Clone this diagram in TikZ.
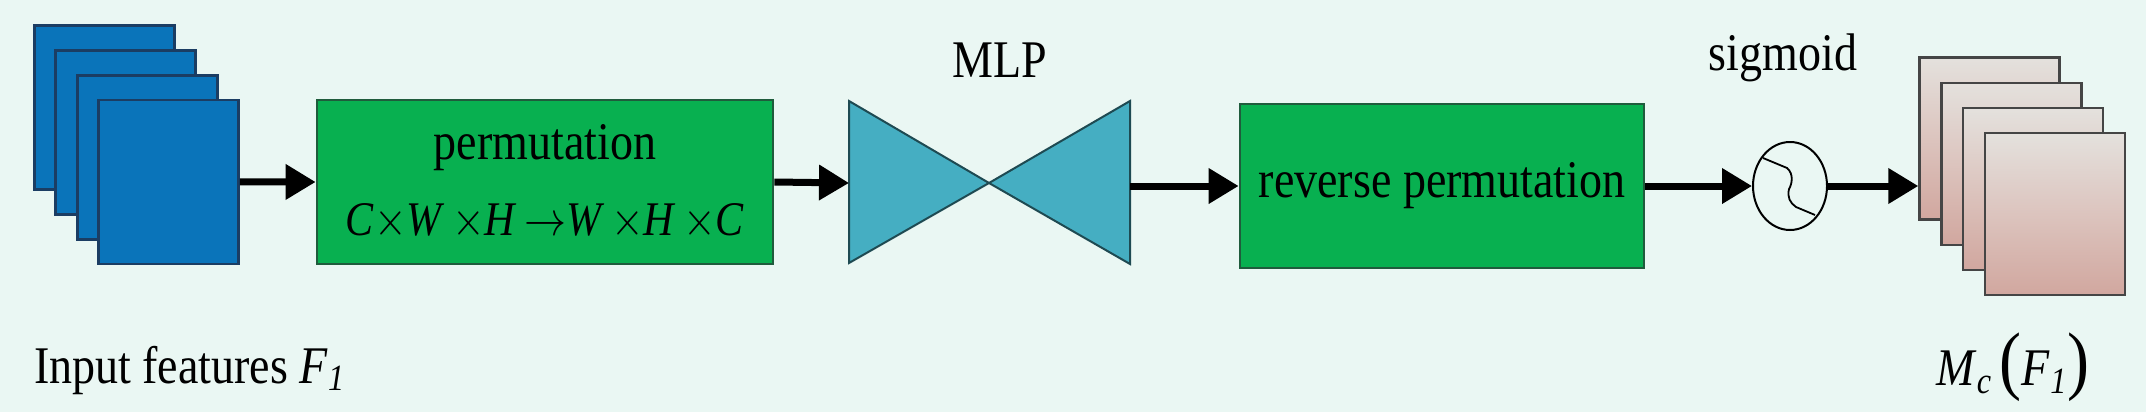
\RequirePackage{fix-cm}
\documentclass[tikz,border=0pt]{standalone}
\usepackage{amsmath}
\usepackage{graphicx}
\usepackage{fontspec}
\setmainfont{Liberation Serif}
\usepackage{tikz}
\usetikzlibrary{arrows.meta, shapes.geometric}
\definecolor{bgMint}{HTML}{EAF7F3}
\definecolor{featBlue}{HTML}{0A74BA}
\definecolor{featEdge}{HTML}{1B3D63}
\definecolor{permGreen}{HTML}{08B050}
\definecolor{permEdge}{HTML}{1F5C3C}
\definecolor{mlpTeal}{HTML}{45AEC2}
\definecolor{mlpEdge}{HTML}{1E4A52}
\definecolor{mapTop}{HTML}{E4E1DD}
\definecolor{mapMid}{HTML}{DCC4BE}
\definecolor{mapBot}{HTML}{D1A79F}
\definecolor{mapEdge}{HTML}{454545}
\newcommand{\tallText}[1]{\scalebox{1}[1.15]{#1}}
\newcommand{\bigParen}[1]{{\fontsize{33}{33}\selectfont #1}}

\begin{document}
\begin{tikzpicture}[x=0.5pt, y=-0.5pt,
    font=\fontsize{23}{36}\selectfont,
    feat/.style={draw=featEdge, fill=featBlue, line width=1.4pt,
        minimum width=70pt, minimum height=82pt, inner sep=0pt},
    attmap/.style={draw=mapEdge, line width=1.2pt, top color=mapTop,
        bottom color=mapBot, middle color=mapMid,
        minimum width=70pt, minimum height=81pt, inner sep=0pt},
    opbox/.style={draw=permEdge, fill=permGreen, line width=1.4pt,
        inner sep=0pt, align=center},
    mlpshape/.style={draw=mlpEdge, fill=mlpTeal, line width=1pt, line join=miter},
    flow/.style={line width=3.5pt, -{Triangle[length=15pt, width=17pt]}}]
    \useasboundingbox (0,0) rectangle (2146,412);
    \fill[bgMint] (0,0) rectangle (2146,412);
    \foreach \i in {1,...,4}
        \node[feat] (in\i) at ({104.5+21.3*(\i-1)},{107.5+24.8*(\i-1)}) {};
    \node[opbox, minimum width=228pt, minimum height=82pt] (perm) at (545,182)
        {\tallText{permutation}\\[2pt]
         \tallText{\fontsize{21}{21}\selectfont\textit{C}$\times$\textit{W}\,$\times$\textit{H}\,$\rightarrow$\textit{W}\,$\times$\textit{H}\,$\times$\textit{C}}};
    \coordinate (mlpin) at (849,183);
    \coordinate (mlpmid) at (989,183);
    \coordinate (mlpout) at (1130,186);
    \draw[mlpshape] (849,101) -- (mlpmid) -- (849,263) -- cycle;
    \draw[mlpshape] (1130,101) -- (mlpmid) -- (1130,264) -- cycle;
    \node (mlp) at (1000,60) {\tallText{MLP}};
    \node[opbox, minimum width=202pt, minimum height=82pt] (rev) at (1442,186) {\tallText{reverse permutation}};
    \node[draw, ellipse, line width=1pt, minimum width=37pt, minimum height=44pt, inner sep=0pt] (sig) at (1790,186) {};
    \draw[line width=0.9pt, shift={(sig.center)}] (-27,-28) -- (-3,-18)
        .. controls (4,-12) and (2,-2) .. (-1,3)
        .. controls (-3,11) and (0,17) .. (6,21) -- (25,29);
    \node (siglabel) at (1783,58) {\tallText{sigmoid}};
    \foreach \i in {1,...,4}
        \node[attmap] (out\i) at ({1989.5+21.8*(\i-1)},{138.5+25.2*(\i-1)}) {};
    \draw[flow] (in4.east) -- (perm.west);
    \draw[flow] (perm.east) -- (mlpin);
    \draw[flow] (mlpout) -- (rev.west);
    \draw[flow] (rev.east) -- (sig.west);
    \draw[flow] (sig.east) -- (sig.east -| out1.west);
    \node[anchor=base west] (inlabel) at (27,383) {\tallText{Input features \textit{F}\textsubscript{\textit{1}}}};
    \node (outlabel) at (2013,367) {\tallText{\textit{M}\textsubscript{\textit{c}}\,\bigParen{(}\textit{F}\textsubscript{\textit{1}}\bigParen{)}}};
\end{tikzpicture}
\end{document}
